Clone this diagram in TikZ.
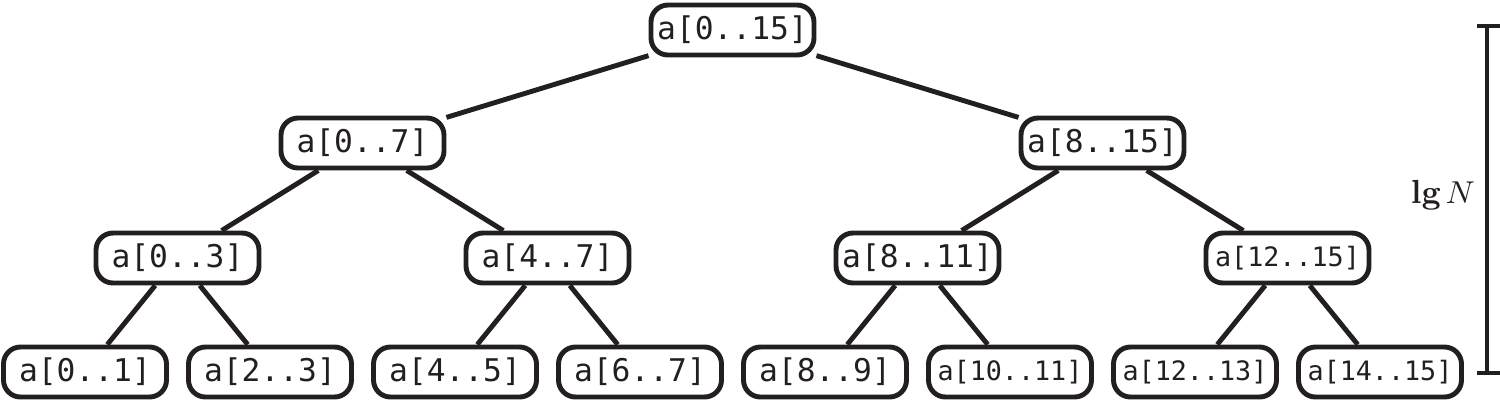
\documentclass[tikz,border=0pt]{standalone}
\usepackage{fontspec}
\usepackage{amsmath}
\setmonofont{DejaVu Sans Mono}
\definecolor{inkdark}{RGB}{35,31,32}

\begin{document}
\begin{tikzpicture}[
    rangebox/.style={draw=inkdark, text=inkdark, line width=1.4pt, rounded corners=0.17cm,
        minimum width=1.63cm, minimum height=0.5cm, inner sep=0pt,
        font=\ttfamily\fontsize{8.9}{10}\selectfont},
    rangesm/.style={rangebox, font=\ttfamily\fontsize{7.6}{9}\selectfont},
    link/.style={draw=inkdark, line width=1.4pt}]
    \useasboundingbox (0,0) rectangle (15,-4.03);

    % Root
    \node[rangebox] (a0-15) at (7.325,-0.30) {a[0..15]};

    % Level 1
    \foreach \nm/\x/\lab/\sty in {a0-7/3.625/a[0..7]/rangebox, a8-15/11.025/a[8..15]/rangebox}
        \node[\sty] (\nm) at (\x,-1.43) {\lab};

    % Level 2
    \foreach \nm/\x/\lab/\sty in {
        a0-3/1.775/a[0..3]/rangebox,
        a4-7/5.475/a[4..7]/rangebox,
        a8-11/9.175/a[8..11]/rangebox,
        a12-15/12.875/a[12..15]/rangesm}
        \node[\sty] (\nm) at (\x,-2.58) {\lab};

    % Level 3 (leaves)
    \foreach \nm/\x/\lab/\sty in {
        a0-1/0.85/a[0..1]/rangebox,
        a2-3/2.70/a[2..3]/rangebox,
        a4-5/4.55/a[4..5]/rangebox,
        a6-7/6.40/a[6..7]/rangebox,
        a8-9/8.25/a[8..9]/rangebox,
        a10-11/10.10/a[10..11]/rangesm,
        a12-13/11.95/a[12..13]/rangesm,
        a14-15/13.80/a[14..15]/rangesm}
        \node[\sty] (\nm) at (\x,-3.72) {\lab};

    % Tree edges
    \foreach \up/\kid in {
        a0-15/a0-7, a0-15/a8-15,
        a0-7/a0-3, a0-7/a4-7, a8-15/a8-11, a8-15/a12-15,
        a0-3/a0-1, a0-3/a2-3, a4-7/a4-5, a4-7/a6-7,
        a8-11/a8-9, a8-11/a10-11, a12-15/a12-13, a12-15/a14-15}
        \draw[link] (\up) -- (\kid);

    % Height bracket
    \coordinate (htop) at (14.87,-0.26);
    \coordinate (hbot) at (14.87,-3.73);
    \draw[inkdark, line width=1pt] (htop) -- (hbot);
    \draw[inkdark, line width=1pt] ([xshift=-0.1cm]htop) -- ([xshift=0.13cm]htop);
    \draw[inkdark, line width=1pt] ([xshift=-0.1cm]hbot) -- ([xshift=0.13cm]hbot);
    \node[text=inkdark, font=\fontsize{9.5}{11}\selectfont] (lgn) at (14.43,-1.95) {\textbf{lg}\hspace{0.15em}$N$};
\end{tikzpicture}
\end{document}
